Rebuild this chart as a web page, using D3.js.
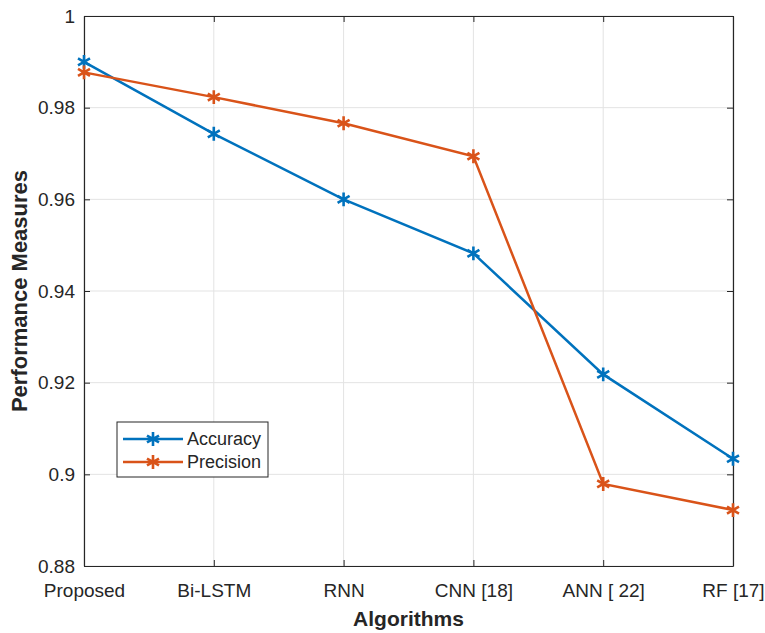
<!DOCTYPE html>
<html>
<head>
<meta charset="utf-8">
<script src="https://cdn.jsdelivr.net/npm/d3@7"></script>
<style>
  body { margin: 0; background: #fff; }
  svg { font-family: "Liberation Sans", Arial, Helvetica, sans-serif; }
</style>
</head>
<body>
<svg id="chart" width="765" height="633"></svg>
<script>
const algorithms = ["Proposed", "Bi-LSTM", "RNN", "CNN [18]", "ANN [ 22]", "RF [17]"];
const accuracy  = [0.990, 0.9743, 0.960, 0.9482, 0.9218, 0.9034];
const precision = [0.9877, 0.9823, 0.9766, 0.9694, 0.8979, 0.8922];
const yTicks = [0.88, 0.9, 0.92, 0.94, 0.96, 0.98, 1];

const series = [
    { name: "Accuracy", values: accuracy, color: "#0072BD" },
    { name: "Precision", values: precision, color: "#D95319" }
];

const svg = d3.select("#chart");
const margin = {top: 16, right: 32, bottom: 67, left: 84};
const width = +svg.attr("width");
const height = +svg.attr("height");
const innerW = width - margin.left - margin.right;
const innerH = height - margin.top - margin.bottom;

const x = d3.scalePoint()
    .domain(algorithms)
    .range([0, innerW]);

const y = d3.scaleLinear()
    .domain([0.88, 1])
    .range([innerH, 0]);

const g = svg.append("g")
    .attr("transform", `translate(${margin.left},${margin.top})`);

// grid
g.selectAll(".gx")
    .data(algorithms)
    .join("line")
    .attr("x1", d => x(d)).attr("x2", d => x(d))
    .attr("y1", 0).attr("y2", innerH)
    .attr("stroke", "#e3e3e3").attr("stroke-width", 1);

g.selectAll(".gy")
    .data(yTicks)
    .join("line")
    .attr("x1", 0).attr("x2", innerW)
    .attr("y1", d => y(d)).attr("y2", d => y(d))
    .attr("stroke", "#e3e3e3").attr("stroke-width", 1);

const fmt = d => String(+d.toFixed(2));

// axes, ticks inward like matlab
const axisColor = "#262626";
const xAxis = g.append("g")
    .attr("transform", `translate(0,${innerH})`)
    .call(d3.axisBottom(x).tickSizeInner(-6).tickSizeOuter(0).tickPadding(17.5));
const yAxis = g.append("g")
    .call(d3.axisLeft(y).tickValues(yTicks).tickFormat(fmt).tickSizeInner(-6).tickSizeOuter(0).tickPadding(9));
const xTop = g.append("g")
    .call(d3.axisTop(x).tickSizeInner(-6).tickSizeOuter(0).tickFormat(""));
const yRight = g.append("g")
    .attr("transform", `translate(${innerW},0)`)
    .call(d3.axisRight(y).tickValues(yTicks).tickSizeInner(-6).tickSizeOuter(0).tickFormat(""));

[xAxis, yAxis, xTop, yRight].forEach(a => {
    a.select(".domain").attr("stroke", axisColor).attr("stroke-width", 1.2);
    a.selectAll(".tick line").attr("stroke", axisColor).attr("stroke-width", 1);
    a.selectAll(".tick text")
        .attr("fill", axisColor)
        .style("font-size", "19px");
});

// lines + asterisk markers
const line = d3.line()
    .x((d, i) => x(algorithms[i]))
    .y(d => y(d));

const star = d3.symbol().type(d3.symbolAsterisk).size(135);

series.forEach(s => {
    g.append("path")
        .datum(s.values)
        .attr("fill", "none")
        .attr("stroke", s.color)
        .attr("stroke-width", 2.5)
        .attr("d", line);

    g.selectAll(null)
        .data(s.values)
        .join("path")
        .attr("transform", (d, i) => `translate(${x(algorithms[i])},${y(d)})`)
        .attr("d", star)
        .attr("fill", "none")
        .attr("stroke", s.color)
        .attr("stroke-width", 2.6);
});

// axis labels
svg.append("text")
    .attr("x", margin.left + innerW / 2)
    .attr("y", 626)
    .attr("text-anchor", "middle")
    .style("font-size", "21px")
    .style("font-weight", "bold")
    .attr("fill", axisColor)
    .text("Algorithms");

svg.append("text")
    .attr("transform", `translate(27,${margin.top + innerH / 2}) rotate(-90)`)
    .attr("text-anchor", "middle")
    .style("font-size", "22px")
    .style("font-weight", "bold")
    .attr("fill", axisColor)
    .text("Performance Measures");

// legend
const legend = svg.append("g")
    .attr("transform", "translate(117,422)");

legend.append("rect")
    .attr("width", 151)
    .attr("height", 55)
    .attr("fill", "#fff")
    .attr("stroke", axisColor)
    .attr("stroke-width", 1);

series.forEach((s, i) => {
    const row = legend.append("g")
        .attr("transform", `translate(0,${17 + i * 23})`);
    row.append("line")
        .attr("x1", 6).attr("x2", 66)
        .attr("stroke", s.color).attr("stroke-width", 2.5);
    row.append("path")
        .attr("transform", "translate(36,0)")
        .attr("d", star)
        .attr("fill", "none")
        .attr("stroke", s.color)
        .attr("stroke-width", 2.6);
    row.append("text")
        .attr("x", 70)
        .attr("dy", "0.35em")
        .style("font-size", "18px")
        .attr("fill", axisColor)
        .text(s.name);
});
</script>
</body>
</html>
